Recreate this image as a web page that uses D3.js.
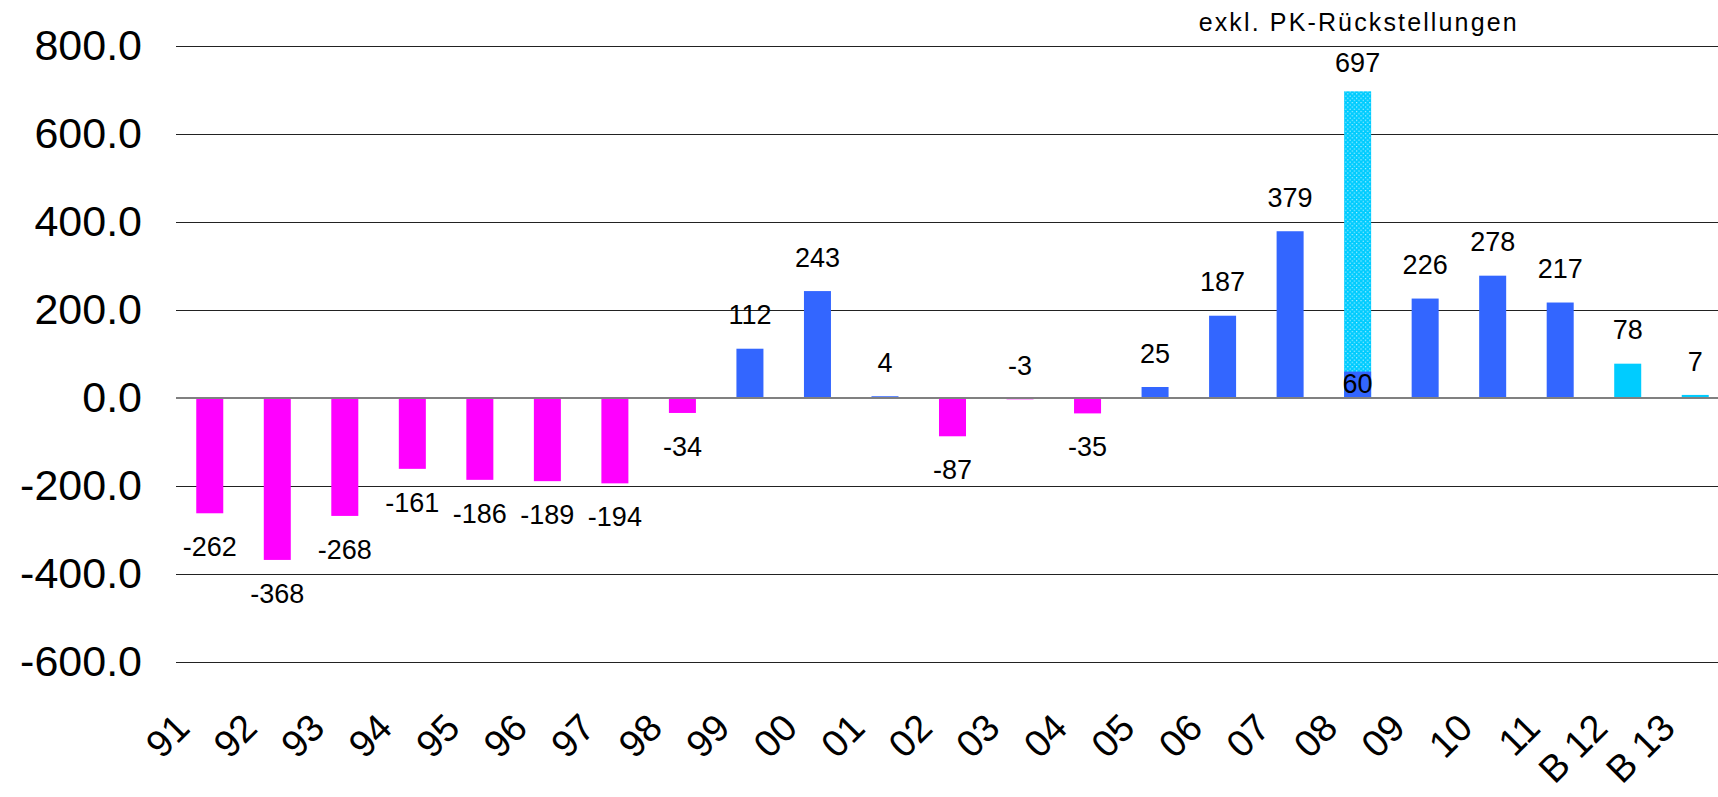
<!DOCTYPE html>
<html>
<head>
<meta charset="utf-8">
<script src="https://cdn.jsdelivr.net/npm/d3@7"></script>
<style>
  body { margin: 0; background: #fff; }
  text { font-family: "Liberation Sans", Arial, sans-serif; fill: #000; }
</style>
</head>
<body>
<svg id="chart" width="1718" height="797"></svg>
<script>
// years (B = Budget)
const categories = ['91','92','93','94','95','96','97','98','99','00','01','02','03','04','05','06','07','08','09','10','11','B 12','B 13'];
const values = [-262,-368,-268,-161,-186,-189,-194,-34,112,243,4,-87,-3,-35,25,187,379,60,226,278,217,78,7];
// 08 without pension provisions
const exklCats = ['08'];
const exklValues = [697];
const exklNote = 'exkl. PK-Rückstellungen';
const yTicks = [-600,-400,-200,0,200,400,600,800];

const svg = d3.select('#chart');

const x = d3.scaleBand()
	.domain(categories)
	.range([176, 1729])
	.paddingInner(0.6)
	.paddingOuter(0.3);

const y = d3.scaleLinear()
	.domain([-600, 800])
	.range([662, 46]);

function barColor(cat, v) {
	if (cat.startsWith('B')) return '#00CCFF';
	return v < 0 ? '#FF00FF' : '#3366FF';
}

// dotted fill for the 08 bar
const pat = svg.append('defs').append('pattern')
	.attr('id', 'dots')
	.attr('patternUnits', 'userSpaceOnUse')
	.attr('width', 4.4)
	.attr('height', 4.4);
pat.append('rect').attr('width', 4.4).attr('height', 4.4).attr('fill', '#00CCFF');
pat.append('rect').attr('x', 1).attr('y', 1).attr('width', 1).attr('height', 1).attr('fill', '#fff');
pat.append('rect').attr('x', 3.2).attr('y', 3.2).attr('width', 1).attr('height', 1).attr('fill', '#e8fbff');

// grid lines
svg.append('g')
	.selectAll('line')
	.data(yTicks.filter(d => d !== 0))
	.enter()
	.append('line')
	.attr('x1', 176)
	.attr('x2', 1718)
	.attr('y1', d => Math.round(y(d)) + 0.5)
	.attr('y2', d => Math.round(y(d)) + 0.5)
	.attr('stroke', '#222')
	.attr('stroke-width', 1);

// y axis labels (plain hyphen for negatives, like the original)
const yAxis = svg.append('g')
	.attr('transform', 'translate(142,0)')
	.call(d3.axisLeft(y).tickValues(yTicks).tickFormat(d => d.toFixed(1)).tickSize(0).tickPadding(0));
yAxis.select('.domain').remove();
yAxis.selectAll('text')
	.attr('font-size', 43)
	.attr('font-family', '"Liberation Sans", Arial, sans-serif')
	.attr('fill', '#000');

// exkl. bar (behind)
svg.append('g')
	.selectAll('rect')
	.data(exklCats.map((c, i) => ({cat: c, value: exklValues[i]})))
	.enter()
	.append('rect')
	.attr('x', d => x(d.cat))
	.attr('width', x.bandwidth())
	.attr('y', d => y(d.value))
	.attr('height', d => y(0) - y(d.value))
	.attr('fill', 'url(#dots)');

// main bars
const data = categories.map((c, i) => ({cat: c, value: values[i]}));
svg.append('g')
	.selectAll('rect')
	.data(data)
	.enter()
	.append('rect')
	.attr('x', d => x(d.cat))
	.attr('width', x.bandwidth())
	.attr('y', d => y(Math.max(0, d.value)))
	.attr('height', d => Math.abs(y(d.value) - y(0)))
	.attr('fill', d => barColor(d.cat, d.value));

// zero line
svg.append('line')
	.attr('x1', 176)
	.attr('x2', 1718)
	.attr('y1', y(0))
	.attr('y2', y(0))
	.attr('stroke', '#808080')
	.attr('stroke-width', 2);

// value labels
svg.append('g')
	.selectAll('text')
	.data(data)
	.enter()
	.append('text')
	.attr('x', d => x(d.cat) + x.bandwidth() / 2)
	.attr('y', d => {
		if (exklCats.includes(d.cat)) return y(d.value) + 12;
		return d.value > -5 ? y(d.value) - 34 : y(d.value) + 33;
	})
	.attr('dy', '0.36em')
	.attr('text-anchor', 'middle')
	.attr('font-size', 27)
	.text(d => d.value);

svg.append('g')
	.selectAll('text')
	.data(exklCats.map((c, i) => ({cat: c, value: exklValues[i]})))
	.enter()
	.append('text')
	.attr('x', d => x(d.cat) + x.bandwidth() / 2)
	.attr('y', d => y(d.value) - 29)
	.attr('dy', '0.36em')
	.attr('text-anchor', 'middle')
	.attr('font-size', 27)
	.text(d => d.value);

// note above the 08 bar
svg.append('text')
	.attr('x', x(exklCats[0]) + x.bandwidth() / 2)
	.attr('y', 31)
	.attr('text-anchor', 'middle')
	.attr('font-size', 25)
	.attr('textLength', 318)
	.attr('lengthAdjust', 'spacing')
	.text(exklNote);

// x labels, rotated
svg.append('g')
	.selectAll('text')
	.data(categories)
	.enter()
	.append('text')
	.attr('transform', d => 'translate(' + (x(d) + x.bandwidth() / 2 - 18) + ',730) rotate(-45)')
	.attr('text-anchor', 'end')
	.attr('font-size', 38)
	.text(d => d);
</script>
</body>
</html>
